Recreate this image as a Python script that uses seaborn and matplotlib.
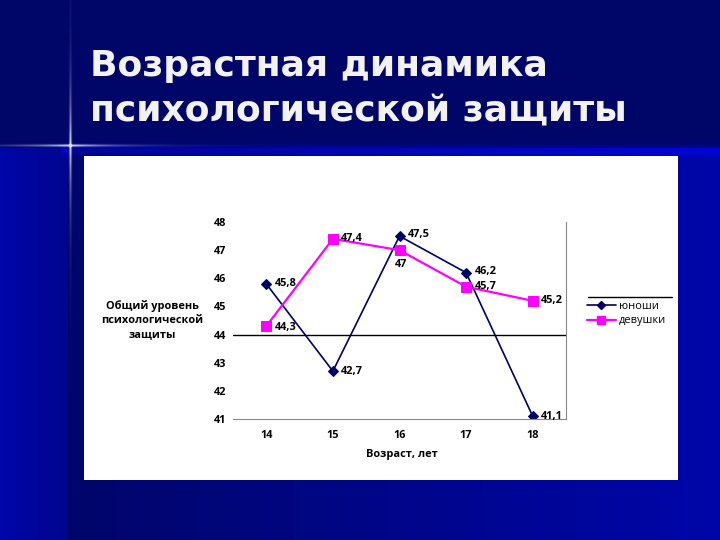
import numpy as np
import pandas as pd
import seaborn as sns
import matplotlib
matplotlib.use("Agg")
from matplotlib import pyplot as plt
from matplotlib.lines import Line2D
from matplotlib.patches import Rectangle

# chart data
ages = ["14", "15", "16", "17", "18"]
boys = [45.8, 42.7, 47.5, 46.2, 41.1]
girls = [44.3, 47.4, 47.0, 45.7, 45.2]
boys_labels = ["45,8", "42,7", "47,5", "46,2", "41,1"]
girls_labels = ["44,3", "47,4", "47", "45,7", "45,2"]
series_names = ["юноши", "девушки"]

W, H = 720, 540
FS = 7.9


def fx(px):
    return px / W


def fy(py):
    return 1 - py / H


sns.set_style("white")
plt.rcParams["font.family"] = ["Open Sans", "DejaVu Sans"]
plt.rcParams["text.color"] = "black"
plt.rcParams["xtick.color"] = "black"
plt.rcParams["ytick.color"] = "black"

fig = plt.figure(figsize=(7.2, 5.4), dpi=100)

# slide background: navy band on top, blue gradient below, small sparkle
bg = fig.add_axes([0, 0, 1, 1])
xx = np.arange(W)[None, :]
yy = np.arange(H)[:, None]
blue = np.full((H, W), 0.41)
low = yy >= 148
grad = 0.42 + 0.24 * np.clip((xx - 75) / 640, 0, 1)
left = np.where(xx < 68, 0.66 - 0.1 * (xx / 68), grad)
blue = np.where(low, left, blue)
band = np.exp(-((yy - 150) / 5.0) ** 2) * 0.2
blue = np.clip(blue + band * (xx > 60), 0, 1)
img = np.zeros((H, W, 3))
img[..., 2] = blue
img[..., 1] = 0.02
spark = np.exp(-np.abs(yy - 145) / 45.0) * np.exp(-((xx - 70) / 1.2) ** 2)
spark = spark + np.exp(-np.abs(xx - 70) / 40.0) * np.exp(-((yy - 145) / 1.2) ** 2)
spark = np.clip(spark, 0, 1)[..., None]
img = img * (1 - spark) + np.array([0.85, 0.88, 1.0]) * spark
bg.imshow(img, extent=[0, W, H, 0], aspect="auto")
bg.set_xlim(0, W)
bg.set_ylim(H, 0)
bg.axis("off")

# white chart panel
bg.add_patch(Rectangle((84, 156), 594, 324, facecolor="white", edgecolor="none"))

# title
title_kw = dict(color="#f2f2f2", fontsize=26, fontweight="bold",
                family=["DejaVu Sans"], va="baseline", ha="left")
fig.text(fx(90), fy(76), "Возрастная динамика", **title_kw)
fig.text(fx(90), fy(121), "психологической защиты", **title_kw)

# line chart
ax = fig.add_axes([fx(233), fy(419), fx(566) - fx(233), (419 - 222) / H])
ax.set_facecolor("none")
pos = list(range(len(ages)))
df = pd.DataFrame({
    "pos": pos * 2,
    "value": boys + girls,
    "group": [series_names[0]] * len(ages) + [series_names[1]] * len(ages),
})
sns.lineplot(data=df[df.group == series_names[0]], x="pos", y="value", ax=ax,
             color="#000066", marker="D", markersize=5.5, linewidth=1.2,
             markeredgecolor="#000066", legend=False)
sns.lineplot(data=df[df.group == series_names[1]], x="pos", y="value", ax=ax,
             color="#ff00ff", marker="s", markersize=7, linewidth=1.6,
             markeredgecolor="#ff00ff", legend=False)

ax.set_xlim(-0.5, len(ages) - 0.5)
ax.set_ylim(41, 48)
ax.set_yticks(range(41, 49))
ax.set_yticklabels([str(v) for v in range(41, 49)], fontsize=FS, fontweight="bold")
ax.set_xticks(pos)
ax.set_xticklabels(ages, fontsize=FS, fontweight="bold")
ax.tick_params(axis="both", length=0)
ax.tick_params(axis="x", pad=8)
ax.tick_params(axis="y", pad=5)
ax.set_xlabel("")
ax.set_ylabel("")
for side in ["top", "left"]:
    ax.spines[side].set_visible(False)
ax.spines["right"].set_color("#888888")
ax.spines["bottom"].set_color("#888888")
ax.spines["right"].set_linewidth(0.8)
ax.spines["bottom"].set_linewidth(0.8)
ax.axhline(44, color="black", linewidth=1)

# data labels (offsets in points)
boys_off = [(6, 0), (6, 0), (6, 1), (6, 1), (6, 0)]
girls_off = [(6, -1), (6, 0), (-3, -10), (6, 0), (6, 0)]
for i in pos:
    ax.annotate(boys_labels[i], (i, boys[i]), xytext=boys_off[i],
                textcoords="offset points", fontsize=FS, fontweight="bold",
                va="center", ha="left")
    ax.annotate(girls_labels[i], (i, girls[i]), xytext=girls_off[i],
                textcoords="offset points", fontsize=FS, fontweight="bold",
                va="center", ha="left")

# axis titles
fig.text(fx(402), fy(455), "Возраст, лет", fontsize=FS, fontweight="bold",
         ha="center", va="center")
fig.text(fx(152), fy(320), "Общий уровень\nпсихологической\nзащиты",
         fontsize=FS, fontweight="bold", ha="center", va="center",
         linespacing=1.35)

# legend
handles = [
    Line2D([], [], color="#000066", marker="D", markersize=4.5, linewidth=1.2),
    Line2D([], [], color="#ff00ff", marker="s", markersize=5.5, linewidth=1.6),
]
fig.legend(handles, series_names, loc="upper left",
           bbox_to_anchor=(fx(585), fy(299)), frameon=False, fontsize=FS,
           handlelength=2.6, handletextpad=0.3, labelspacing=0.3,
           borderaxespad=0, borderpad=0.2)
fig.add_artist(Line2D([fx(588), fx(672)], [fy(297), fy(297)],
                      color="black", linewidth=1))

fig.savefig("out.png", dpi=100)
